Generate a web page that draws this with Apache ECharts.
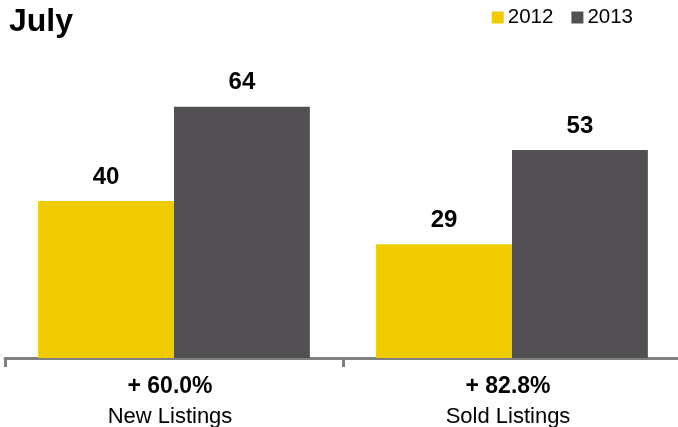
<!DOCTYPE html>
<html>
<head>
<meta charset="utf-8">
<script src="https://cdn.jsdelivr.net/npm/echarts@6/dist/echarts.min.js"></script>
<style>
html,body{margin:0;padding:0;background:#fff;}
#chart{width:678px;height:427px;}
</style>
</head>
<body>
<div id="chart"></div>
<script>
const categories = ['New Listings', 'Sold Listings'];
const changeLabels = ['+ 60.0%', '+ 82.8%'];
const seriesNames = ['2012', '2013'];
const values2012 = [40, 29];
const values2013 = [64, 53];

const FONT = '"Liberation Sans", Arial, Helvetica, sans-serif';
const chart = echarts.init(document.getElementById('chart'));
const labelStyle = {
  show: true, position: 'top', distance: 12,
  fontFamily: FONT, fontWeight: 'bold', fontSize: 24, color: '#000'
};
chart.setOption({
  animation: false,
  backgroundColor: '#fff',
  title: {
    text: 'July', left: 9, top: 6, padding: 0,
    textStyle: { fontFamily: FONT, fontWeight: 'bold', fontSize: 32, color: '#000' }
  },
  legend: {
    data: seriesNames, right: 45, top: 7, padding: 0,
    icon: 'rect', itemWidth: 12, itemHeight: 12, itemGap: 18,
    textStyle: { fontFamily: FONT, fontSize: 20.5, color: '#000', padding: [0, 0, 0, -1] }
  },
  grid: { left: 5, width: 676, top: 44, height: 314, containLabel: false, outerBoundsMode: 'none' },
  xAxis: {
    type: 'category', data: categories,
    axisLine: { lineStyle: { color: '#808080', width: 3 } },
    axisTick: { show: true, length: 9, lineStyle: { color: '#808080', width: 3 } },
    axisLabel: {
      margin: 15,
      formatter: function (v, i) { return '{b|' + changeLabels[i] + '}\n{n|' + v + '}'; },
      rich: {
        b: { fontFamily: FONT, fontWeight: 'bold', fontSize: 23, color: '#000', lineHeight: 28, padding: [0, 8, 0, 0] },
        n: { fontFamily: FONT, fontSize: 22, color: '#000', lineHeight: 32, padding: [0, 8, 0, 0] }
      }
    }
  },
  yAxis: { type: 'value', min: 0, max: 80, show: false, splitLine: { show: false } },
  series: [
    { name: seriesNames[0], type: 'bar', data: values2012, barGap: '0%', barCategoryGap: '19.6%',
      itemStyle: { color: '#F0CB00' }, label: labelStyle },
    { name: seriesNames[1], type: 'bar', data: values2013,
      itemStyle: { color: '#535053' }, label: labelStyle }
  ]
});
</script>
</body>
</html>
